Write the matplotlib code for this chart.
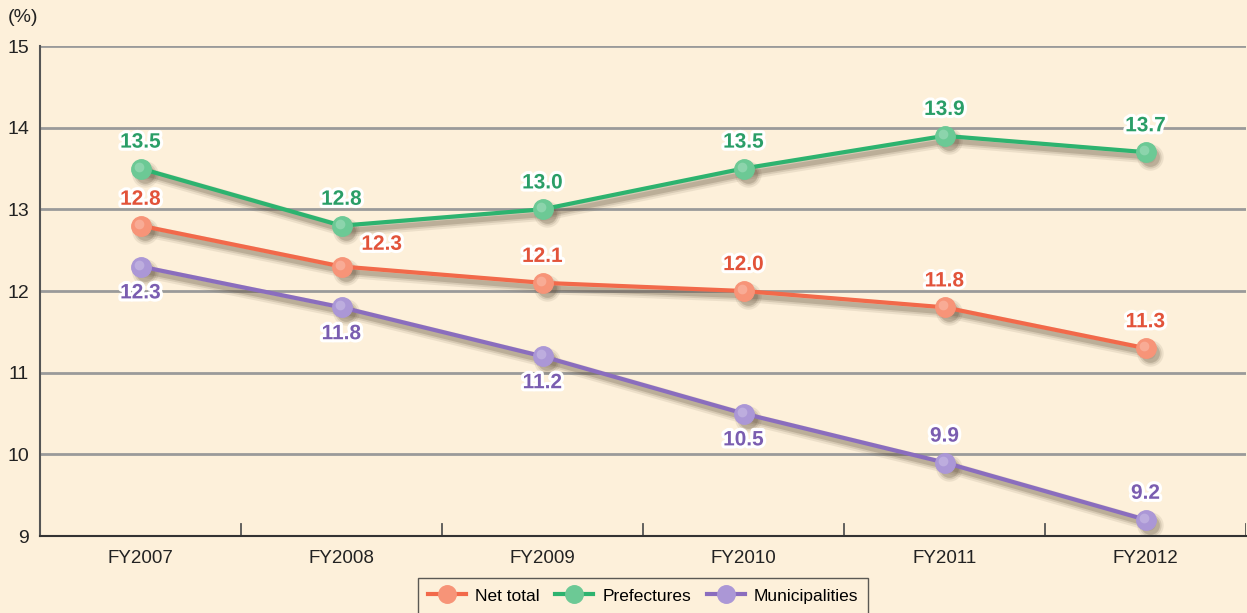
import numpy as np
import matplotlib
matplotlib.use("Agg")
import matplotlib.pyplot as plt
import matplotlib.patheffects as pe
from matplotlib.transforms import offset_copy

years = ["FY2007", "FY2008", "FY2009", "FY2010", "FY2011", "FY2012"]
net_total = [12.8, 12.3, 12.1, 12.0, 11.8, 11.3]
prefectures = [13.5, 12.8, 13.0, 13.5, 13.9, 13.7]
municipalities = [12.3, 11.8, 11.2, 10.5, 9.9, 9.2]

plt.rcParams["font.family"] = ["Liberation Sans", "DejaVu Sans"]

bg = "#FDF0DA"
fig = plt.figure(figsize=(12.47, 6.13), dpi=100, facecolor=bg)
ax = fig.add_axes([40 / 1247, 77 / 613, 1206 / 1247, 490 / 613])
ax.set_facecolor(bg)

x = np.arange(len(years))
series = [
    ("Net total", net_total, "#F2694A", "#F79478", "#E2533A"),
    ("Prefectures", prefectures, "#2DB36F", "#6CC995", "#2A9E67"),
    ("Municipalities", municipalities, "#8A6DBE", "#AB97D6", "#7A5DB0"),
]

# soft drop shadow under lines and markers
tr = offset_copy(ax.transData, fig=fig, x=4, y=-5, units="dots")
for a, lw in [(0.10, 9), (0.15, 6), (0.22, 3.5)]:
    for name, vals, col, mcol, tcol in series:
        ax.plot(x, vals, color="#5e4e3a", alpha=a, lw=lw, transform=tr,
                solid_capstyle="round", zorder=2)
        ax.plot(x, vals, ls="none", marker="o", ms=10 + lw, mfc="#5e4e3a",
                mec="none", alpha=a, transform=tr, zorder=2)

for name, vals, col, mcol, tcol in series:
    ax.plot(x, vals, color=col, lw=3, marker="o", ms=14, mfc=mcol, mec=mcol,
            label=name, zorder=3)
    # glossy highlight on the markers
    hl = offset_copy(ax.transData, fig=fig, x=-1.5, y=2, units="dots")
    ax.plot(x, vals, ls="none", marker="o", ms=7, mfc="white", mec="none",
            alpha=0.22, transform=hl, zorder=4)

# value labels
outline = [pe.withStroke(linewidth=4.5, foreground="white")]
def lab(xi, v, col, dx, dy):
    ax.annotate(f"{v:.1f}", (xi, v), xytext=(dx, dy), textcoords="offset points",
                ha="center", va="center", fontsize=15, color=col,
                fontweight="bold", path_effects=outline, zorder=5)

for i, v in enumerate(prefectures):
    lab(i, v, "#2A9E67", 0, 19)
for i, v in enumerate(net_total):
    if i == 1:
        lab(i, v, "#E2533A", 29, 16)
    else:
        lab(i, v, "#E2533A", 0, 19)
for i, v in enumerate(municipalities):
    if i >= 4:
        lab(i, v, "#7A5DB0", 0, 19)
    else:
        lab(i, v, "#7A5DB0", 0, -19)

ax.set_xlim(-0.5, 5.5)
ax.set_ylim(9, 15)
ax.set_yticks(range(9, 16))
ax.tick_params(axis="y", length=0, labelsize=14, pad=8, colors="#222222")
for yv in range(10, 16):
    ax.axhline(yv, color="#9a9a9a", lw=2, zorder=1)

ax.set_xticks(x)
ax.set_xticklabels(years)
ax.tick_params(axis="x", length=0, labelsize=13.5, pad=10, colors="#222222")
for b in np.arange(0.5, 6.0, 1.0):
    ax.plot([b, b], [9, 9.15], color="#555555", lw=1.3, zorder=2)

for s in ["top", "right"]:
    ax.spines[s].set_visible(False)
ax.spines["left"].set_color("#555555")
ax.spines["bottom"].set_color("#333333")
ax.spines["left"].set_linewidth(1.5)
ax.spines["bottom"].set_linewidth(1.5)

fig.text(8 / 1247, 1 - 18 / 613, "(%)", fontsize=14, va="center", ha="left", color="#222222")

leg = ax.legend(loc="upper center", bbox_to_anchor=(0.5, -0.075), ncol=3,
                frameon=True, fancybox=False, fontsize=12.5, handlelength=2.2,
                columnspacing=0.9, handletextpad=0.5, borderpad=0.6,
                borderaxespad=0.3, markerscale=0.9)
leg.get_frame().set_edgecolor("#333333")
leg.get_frame().set_facecolor(bg)

fig.savefig("out.png", dpi=100, facecolor=bg)
